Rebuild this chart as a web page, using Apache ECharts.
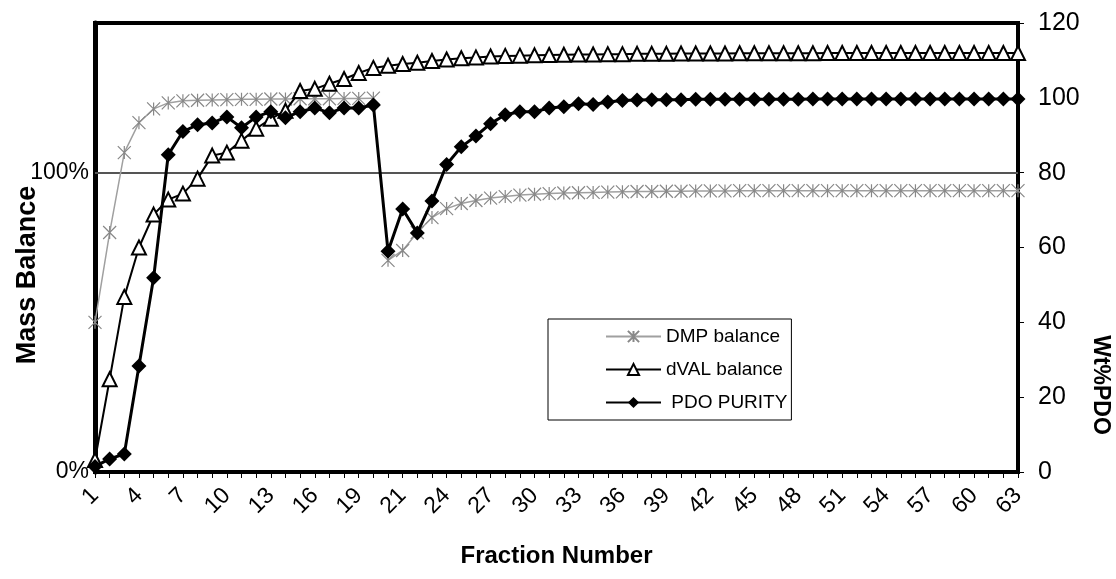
<!DOCTYPE html>
<html>
<head>
<meta charset="utf-8">
<script src="https://cdn.jsdelivr.net/npm/echarts@6/dist/echarts.min.js"></script>
<style>html,body{margin:0;padding:0;background:#fff}#c{width:1116px;height:579px}</style>
</head>
<body>
<div id="c"></div>
<script>
// Fraction numbers (category axis); the run restarts at fraction 20
const fractions = ['1','2','3','4','5','6','7','8','9','10','11','12','13','14','15','16','17','18','19','20',
  '20','21','22','23','24','25','26','27','28','29','30','31','32','33','34','35','36','37','38','39','40','41',
  '42','43','44','45','46','47','48','49','50','51','52','53','54','55','56','57','58','59','60','61','62','63'];

// DMP balance (fraction of 1 = 100%), first run (fractions 1-20)
const dmpRun1 = [0.50,0.80,1.067,1.167,1.213,1.233,1.240,1.242,1.243,1.244,1.245,1.245,1.246,1.246,1.247,1.247,1.247,1.248,1.248,1.249];
// DMP balance, second run
const dmpRun2 = [0.707,0.740,0.800,0.850,0.880,0.897,0.907,0.915,0.920,0.925,0.928,0.930,0.932,0.933,0.934,0.935,0.936,0.937,0.937,0.938,
  0.938,0.939,0.939,0.939,0.940,0.940,0.940,0.940,0.940,0.940,0.940,0.940,0.940,0.940,0.940,0.940,0.940,0.940,0.940,0.940,0.940,0.940,0.940,0.940];

// dVAL balance (fraction of 1 = 100%)
const dvalBalance = [0.04,0.31,0.585,0.75,0.86,0.91,0.93,0.98,1.057,1.067,1.107,1.147,1.18,1.207,1.273,1.28,1.297,1.313,1.333,1.35,
  1.357,1.363,1.367,1.373,1.378,1.382,1.385,1.388,1.39,1.391,1.392,1.393,1.394,1.395,1.395,1.396,1.396,1.397,1.397,1.397,1.398,1.398,
  1.398,1.398,1.399,1.399,1.399,1.399,1.399,1.399,1.400,1.400,1.400,1.400,1.400,1.400,1.400,1.400,1.400,1.400,1.400,1.400,1.400,1.400];

// PDO purity, wt%
const pdoPurity = [1.5,3.5,4.8,28.3,51.9,84.8,91.0,92.8,93.3,94.9,92.0,94.9,96.3,94.7,96.3,97.3,96.0,97.3,97.3,98.1,
  59.0,70.3,63.9,72.4,82.2,86.9,89.8,93.1,95.5,96.3,96.3,97.3,97.6,98.4,98.2,98.9,99.3,99.4,99.5,99.5,99.5,99.6,
  99.6,99.6,99.6,99.6,99.6,99.6,99.6,99.7,99.7,99.7,99.7,99.7,99.7,99.7,99.7,99.7,99.7,99.7,99.7,99.7,99.7,99.7];

// reference gridline on the mass-balance axis (100%)
const massBalanceRef = 1;

const dmpSeries1 = dmpRun1.concat(new Array(fractions.length - dmpRun1.length).fill(null));
const dmpSeries2 = new Array(fractions.length - dmpRun2.length).fill(null).concat(dmpRun2);

const FONT = 'Liberation Sans, Arial, Helvetica, sans-serif';
const xMark = 'path://M0,0L10,10M10,0L0,10M5,0L5,10';

const chart = echarts.init(document.getElementById('c'), null, {renderer: 'canvas'});
chart.setOption({
  animation: false,
  backgroundColor: '#fff',
  grid: {left: 95, right: 98, top: 23, bottom: 107, show: true, borderColor: '#000', borderWidth: 4, backgroundColor: 'transparent'},
  legend: {
    orient: 'vertical', left: 548, top: 319,
    data: ['DMP balance', 'dVAL balance', ' PDO PURITY'],
    itemWidth: 55, itemHeight: 14, itemGap: 14,
    padding: [8, 4, 8, 57],
    borderColor: '#000', borderWidth: 1, backgroundColor: '#fff',
    textStyle: {fontFamily: FONT, fontSize: 19, color: '#000'}
  },
  xAxis: {
    type: 'category', data: fractions, boundaryGap: false,
    axisLine: {show: true, lineStyle: {color: '#000', width: 4}},
    axisTick: {show: true, interval: 0, length: 6, lineStyle: {color: '#000', width: 1}},
    axisLabel: {interval: 2, rotate: 45, margin: 20, fontFamily: FONT, fontSize: 23, color: '#000'},
    splitLine: {show: false},
    name: 'Fraction Number', nameLocation: 'middle', nameGap: 72,
    nameTextStyle: {fontFamily: FONT, fontSize: 24, fontWeight: 'bold', color: '#000'}
  },
  yAxis: [{
    type: 'value', min: 0, max: 1.5, interval: 1,
    axisLine: {show: true, lineStyle: {color: '#000', width: 5}},
    axisTick: {show: false},
    axisLabel: {showMaxLabel: false, margin: 6, fontFamily: FONT, fontSize: 23, color: '#000',
      formatter: v => Math.round(v * 100) + '%'},
    splitLine: {show: false}
  }, {
    type: 'value', min: 0, max: 120, interval: 20, position: 'right',
    axisLine: {show: true, lineStyle: {color: '#000', width: 3}},
    axisTick: {show: true, length: 6, lineStyle: {color: '#000', width: 1}},
    axisLabel: {margin: 20, fontFamily: FONT, fontSize: 25, color: '#000'},
    splitLine: {show: false}
  }],
  graphic: [{
    type: 'text', x: 28, y: 275, rotation: Math.PI / 2,
    style: {text: 'Mass Balance', font: 'bold 27px ' + FONT, fill: '#000', textAlign: 'center', textVerticalAlign: 'middle'}
  }, {
    type: 'text', x: 1100, y: 385, rotation: -Math.PI / 2,
    style: {text: 'Wt%PDO', font: 'bold 23px ' + FONT, fill: '#000', textAlign: 'center', textVerticalAlign: 'middle'}
  }],
  series: [{
    name: 'DMP balance', type: 'line', yAxisIndex: 0, data: dmpSeries1, z: 2,
    symbol: xMark, symbolSize: 13, showAllSymbol: true,
    lineStyle: {color: '#a0a0a0', width: 1.5},
    itemStyle: {color: '#888', borderColor: '#888', borderWidth: 1.2},
    markLine: {silent: true, symbol: 'none', label: {show: false}, z: 1,
      lineStyle: {color: '#555', width: 2, type: 'solid'},
      data: [{yAxis: massBalanceRef}]}
  }, {
    name: 'DMP balance', type: 'line', yAxisIndex: 0, data: dmpSeries2, z: 2,
    symbol: xMark, symbolSize: 13, showAllSymbol: true,
    lineStyle: {color: '#a0a0a0', width: 1.5},
    itemStyle: {color: '#888', borderColor: '#888', borderWidth: 1.2}
  }, {
    name: 'dVAL balance', type: 'line', yAxisIndex: 0, data: dvalBalance, z: 3,
    symbol: 'triangle', symbolSize: 14, showAllSymbol: true,
    lineStyle: {color: '#000', width: 2},
    itemStyle: {color: '#fff', borderColor: '#000', borderWidth: 2}
  }, {
    name: ' PDO PURITY', type: 'line', yAxisIndex: 1, data: pdoPurity, z: 4,
    symbol: 'diamond', symbolSize: 15, showAllSymbol: true,
    lineStyle: {color: '#000', width: 3},
    itemStyle: {color: '#000'}
  }]
});
</script>
</body>
</html>
